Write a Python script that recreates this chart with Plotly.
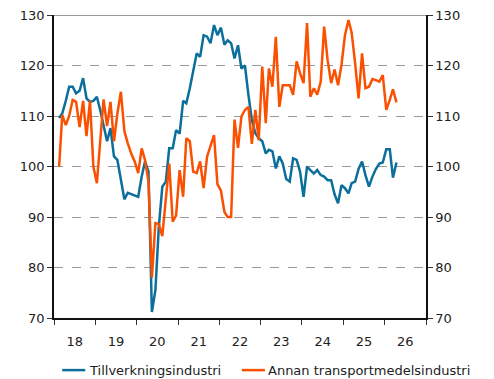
import pandas as pd
import plotly.graph_objects as go

# Monthly index series, Jan 2018 onwards
start_month = "2018-01-15"

tillverkning = [
    109.6, 110.5, 113.0, 115.8, 115.8, 114.5, 115.0, 117.5, 113.5, 112.8, 113.0, 113.8,
    111.0, 108.0, 105.0, 107.6, 102.0, 101.3, 97.5, 93.5, 94.8, 94.5, 94.3, 94.0,
    98.0, 101.0, 99.0, 71.2, 75.5, 88.0, 96.0, 97.0, 103.6, 103.6, 107.2, 106.5,
    113.0, 112.5, 115.5, 119.0, 122.4, 121.7, 126.0, 125.7, 124.4, 128.0, 126.0, 127.5,
    124.1, 125.0, 124.4, 121.4, 124.0, 119.4, 120.0, 114.2, 109.2, 106.6, 105.6, 105.0,
    102.6, 103.3, 103.0, 99.6, 102.0, 100.6, 97.5, 97.0, 101.6, 101.3, 99.0, 94.0,
    100.0, 99.3, 98.6, 99.3, 98.3, 98.0, 97.3, 97.3, 94.5, 92.7, 96.3, 95.7,
    94.7, 96.7, 97.0, 99.5, 101.0, 98.3, 96.0, 98.0, 99.5, 100.6, 100.8, 103.4,
    103.4, 97.8, 100.8,
]

annan_transport = [
    100.0, 110.2, 108.2, 110.0, 113.2, 112.8, 107.8, 113.0, 106.0, 113.0, 100.0, 96.7,
    105.5, 113.3, 108.0, 112.8, 105.0, 110.5, 114.8, 107.0, 104.6, 102.5, 101.0, 98.7,
    103.6, 101.3, 97.0, 78.0, 88.8, 88.6, 86.2, 93.4, 100.6, 89.1, 90.3, 99.3,
    94.0, 105.6, 105.0, 99.0, 98.7, 101.0, 95.7, 102.0, 104.0, 106.2, 96.5, 95.2,
    91.0, 90.0, 90.0, 109.3, 103.7, 109.9, 111.2, 111.8, 104.5, 111.2, 105.2, 119.8,
    108.6, 119.4, 115.8, 125.7, 111.8, 116.1, 116.1, 116.1, 114.2, 120.8, 118.5, 116.5,
    128.4, 113.8, 115.5, 114.2, 116.8, 127.7, 121.0, 116.5, 119.2, 116.1, 120.1, 126.0,
    129.0, 126.5, 120.4, 113.5, 122.4, 115.5, 115.8, 117.3, 117.1, 116.8, 118.1, 111.2,
    113.2, 115.3, 112.7,
]

series_names = ["Tillverkningsindustri", "Annan transportmedelsindustri"]

dates = pd.date_range(start_month, periods=len(tillverkning), freq="MS") + pd.Timedelta(days=14)

y_ticks = [70, 80, 90, 100, 110, 120, 130]
y_range = [70, 130]

BLUE = "#0b6e9b"
ORANGE = "#fa5000"
FONT = "DejaVu Sans"
TEXT = "#222"

fig = go.Figure()
fig.add_trace(go.Scatter(
    x=dates, y=tillverkning, mode="lines", name=series_names[0],
    line=dict(color=BLUE, width=2.5),
))
fig.add_trace(go.Scatter(
    x=dates, y=annan_transport, mode="lines", name=series_names[1],
    line=dict(color=ORANGE, width=2.5), yaxis="y2",
))

axis_common = dict(
    range=y_range, tickvals=y_ticks, ticks="outside", ticklen=5, tickcolor="#333",
    tickfont=dict(family=FONT, size=13, color=TEXT),
    showline=True, linecolor="#111", linewidth=1.5, zeroline=False,
)

fig.update_layout(
    width=494, height=379,
    margin=dict(l=54, r=68, t=15, b=61, autoexpand=False),
    paper_bgcolor="white", plot_bgcolor="white",
    font=dict(family=FONT, size=13, color=TEXT),
    showlegend=False,
    xaxis=dict(
        type="date", range=["2018-01-01", "2027-01-01"],
        tick0="2018-01-01", dtick="M12", tickformat="%y", ticklabelmode="period",
        ticks="outside", ticklen=5, tickcolor="#333", ticklabelstandoff=6,
        tickfont=dict(family=FONT, size=13, color=TEXT),
        showline=True, linecolor="#111", linewidth=1.5, showgrid=False, zeroline=False,
    ),
    yaxis=dict(
        **axis_common, side="left",
        showgrid=True, gridcolor="#999", griddash="dash", gridwidth=1,
    ),
    yaxis2=dict(
        **axis_common, side="right", overlaying="y", showgrid=False,
    ),
)

# Frame line along the top of the plotting area
fig.add_shape(type="line", xref="paper", yref="y", x0=0, x1=1, y0=130, y1=130,
              line=dict(color="#333", width=1.2))

# Single-row legend below the x axis (line key + label per series)
legend_y = -0.172
legend_keys = [(0.022, 0.084), (0.505, 0.567)]
for (x0, x1), name, color in zip(legend_keys, series_names, [BLUE, ORANGE]):
    fig.add_shape(type="line", xref="paper", yref="paper",
                  x0=x0, x1=x1, y0=legend_y, y1=legend_y,
                  line=dict(color=color, width=2.5))
    fig.add_annotation(xref="paper", yref="paper", x=x1 + 0.004, y=legend_y,
                       xanchor="left", yanchor="middle", showarrow=False,
                       text=name, font=dict(family=FONT, size=13, color=TEXT))

fig.write_html("out.html")
